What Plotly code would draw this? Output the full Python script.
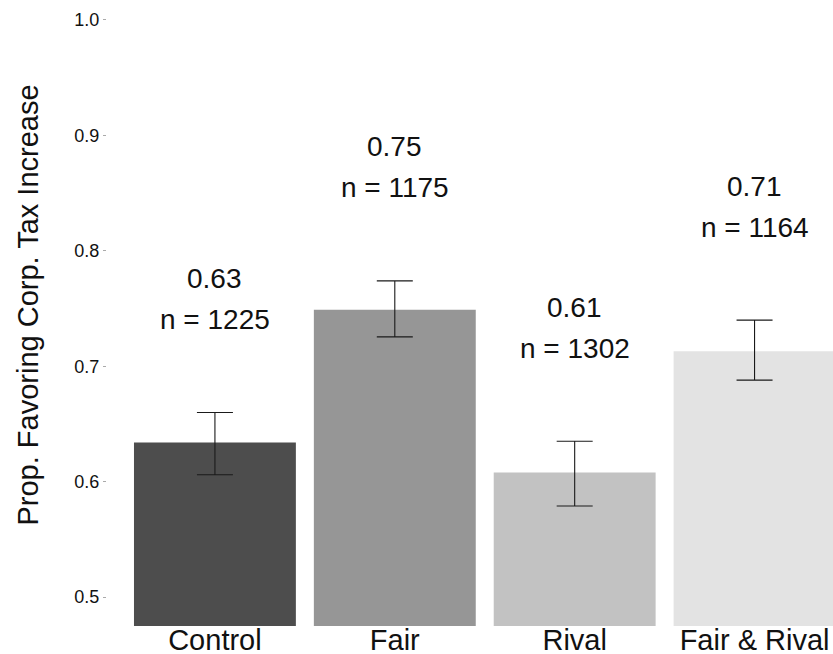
import plotly.graph_objects as go

categories = ["Control", "Fair", "Rival", "Fair & Rival"]
means = [0.634, 0.749, 0.608, 0.713]
ci_lower = [0.606, 0.7255, 0.579, 0.688]
ci_upper = [0.660, 0.774, 0.635, 0.740]
n_obs = [1225, 1175, 1302, 1164]
bar_colors = ["#4D4D4D", "#969696", "#C2C2C2", "#E3E3E3"]
y_ticks = [0.5, 0.6, 0.7, 0.8, 0.9, 1.0]

FONT = "Liberation Sans, Arial, Helvetica, sans-serif"

W, H = 833, 654
L = 106.5
B = 28
PANEL_W = W - L
PANEL_H = H - B

fig = go.Figure()
fig.add_trace(go.Bar(
    x=categories,
    y=means,
    base=0,
    width=0.9,
    marker=dict(color=bar_colors, line=dict(width=0)),
    error_y=dict(
        type="data",
        symmetric=False,
        array=[u - m for u, m in zip(ci_upper, means)],
        arrayminus=[m - l for m, l in zip(means, ci_lower)],
        color="#1A1A1A",
        thickness=1.1,
        width=18,
    ),
    showlegend=False,
    hoverinfo="skip",
))

annotations = []
for cat, m, u, n in zip(categories, means, ci_upper, n_obs):
    annotations.append(dict(
        x=cat, y=u + 0.116, xref="x", yref="y",
        text=f"{m:.2f}", showarrow=False,
        xanchor="center", yanchor="middle",
        font=dict(family=FONT, size=28, color="#111111"),
    ))
    annotations.append(dict(
        x=cat, y=u + 0.0805, xref="x", yref="y",
        text=f"n = {n}", showarrow=False,
        xanchor="center", yanchor="middle",
        font=dict(family=FONT, size=28, color="#111111"),
    ))

# y-axis title
annotations.append(dict(
    x=(27 - L) / PANEL_W, y=(626 - 305) / PANEL_H,
    xref="paper", yref="paper",
    text="Prop. Favoring Corp. Tax Increase", textangle=-90,
    showarrow=False, xanchor="center", yanchor="middle",
    font=dict(family=FONT, size=29, color="#111111"),
))

fig.update_layout(
    width=W, height=H,
    margin=dict(l=L, r=0, t=0, b=B, pad=0),
    paper_bgcolor="white", plot_bgcolor="white",
    bargap=0.1,
    annotations=annotations,
    xaxis=dict(
        type="category",
        categoryorder="array", categoryarray=categories,
        range=[-0.6, -0.6 + PANEL_W / 180],
        showgrid=False, zeroline=False, showline=False,
        ticks="", ticklen=0,
        ticklabelstandoff=-6,
        tickfont=dict(family=FONT, size=29, color="#111111"),
        automargin=False,
    ),
    yaxis=dict(
        range=[0.475, 1.0 + 20 / 1155],
        tickvals=y_ticks, ticktext=[f"{v:.1f}" for v in y_ticks],
        showgrid=False, zeroline=False, showline=False,
        ticks="outside", ticklen=3, tickwidth=1, tickcolor="#AAAAAA",
        tickfont=dict(family=FONT, size=18, color="#111111"),
        automargin=False,
    ),
)

fig.write_html(
    "out.html",
    config={"displayModeBar": False},
    post_script=(
        "document.body.style.margin='0';"
        "document.body.style.overflow='hidden';"
        "document.documentElement.style.overflow='hidden';"
    ),
)
